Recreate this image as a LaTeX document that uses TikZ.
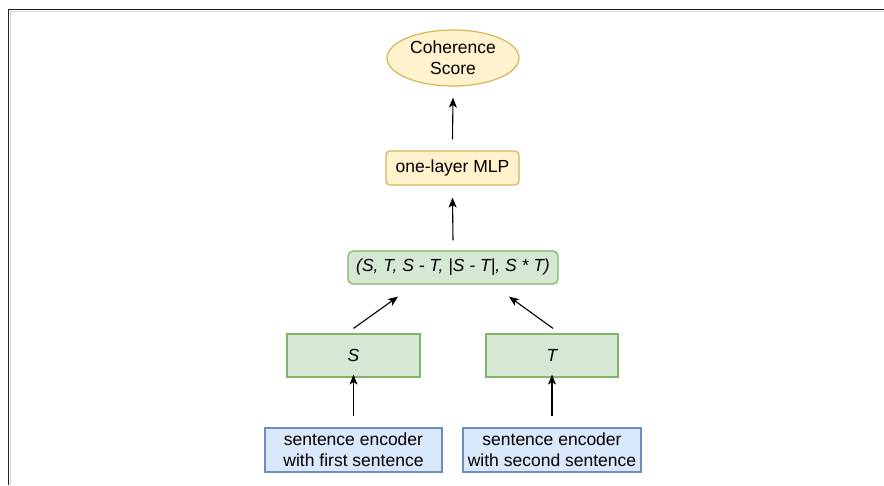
\documentclass[tikz,border=0pt]{standalone}
\usepackage{fontspec}
\setmainfont{Liberation Sans}
\usetikzlibrary{shapes.geometric,arrows.meta,calc}
\definecolor{yfill}{HTML}{FFF2CC}
\definecolor{ydraw}{HTML}{D6B656}
\definecolor{gfill}{HTML}{D5E8D4}
\definecolor{gdraw}{HTML}{82B366}
\definecolor{bfill}{HTML}{DAE8FC}
\definecolor{bdraw}{HTML}{6C8EBF}
\definecolor{framec}{HTML}{222222}
\tikzset{
  base/.style={inner sep=0pt, align=center, font=\fontsize{17.5}{21}\selectfont, line width=1.2pt},
  yell/.style={base, fill=yfill, draw=ydraw},
  green/.style={base, fill=gfill, draw=gdraw},
  blue/.style={base, fill=bfill, draw=bdraw},
  arr/.style={draw=black, line width=1.1pt, -{Stealth[length=10pt,width=8pt,inset=2.5pt]}}
}
\begin{document}
\begin{tikzpicture}[x=1pt,y=-1pt]
\useasboundingbox (0,0) rectangle (884,485);
\fill[white] (0,0) rectangle (884,485);
% frame
\draw[framec, line width=1.6pt] (8.5,485) -- (8.5,9.5) -- (884,9.5);
\draw[black!15, line width=0.8pt] (10,485) -- (10,11) -- (884,11);
% nodes
\node[yell, ellipse, minimum width=132pt, minimum height=56pt] (score) at (453,58) {Coherence\\Score};
\node[yell, rectangle, rounded corners=4pt, minimum width=133pt, minimum height=34pt] (mlp) at (452.5,168) {one-layer MLP};
\node[green, rectangle, rounded corners=5pt, minimum width=210pt, minimum height=33pt] (tup) at (453,267.5) {\itshape (S, T, S - T, |S - T|, S * T)};
\node[green, rectangle, minimum width=133pt, minimum height=43pt] (S) at (353.5,355.5) {\itshape S};
\node[green, rectangle, minimum width=132pt, minimum height=43pt] (T) at (552,355.5) {\itshape T};
\node[blue, rectangle, minimum width=177pt, minimum height=44pt] (enc1) at (353.5,450) {sentence encoder\\with first sentence};
\node[blue, rectangle, minimum width=178pt, minimum height=44pt] (enc2) at (552,450) {sentence encoder\\with second sentence};
% connectors
\draw[arr] ([yshift=11pt]enc1.north) -- ([yshift=3pt]S.south);
\draw[arr] ([yshift=11pt]enc2.north) -- ([yshift=3pt]T.south);
\draw[arr] ([yshift=5pt]S.north) -- ([xshift=-55pt,yshift=-12pt]tup.south);
\draw[arr] ([xshift=1pt,yshift=5pt]T.north) -- ([xshift=56pt,yshift=-12pt]tup.south);
\draw[arr] ([yshift=10pt]tup.north) -- ([yshift=-12pt]mlp.south);
\draw[arr] ([yshift=11pt]mlp.north) -- ([yshift=-11pt]score.south);
\end{tikzpicture}
\end{document}
